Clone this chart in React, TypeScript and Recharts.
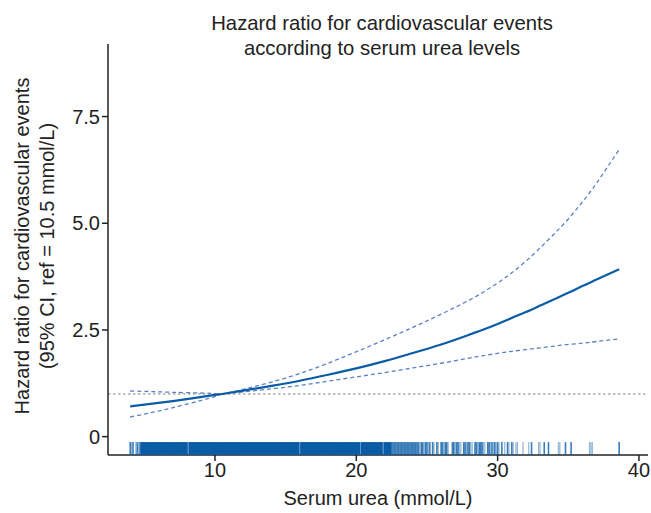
import { ComposedChart, Line, Scatter, XAxis, YAxis, ReferenceLine, Label } from 'recharts';

const FONT = '"Liberation Sans", Arial, Helvetica, sans-serif';
const INK = '#222222';
const BLUE = '#0a5ca6';
const CI_BLUE = '#5a80c4';

// spline estimate
const urea = [4, 6, 8, 10, 10.5, 12, 14, 16, 18, 20, 22, 24, 26, 28, 29, 30, 31, 32, 33, 34, 35, 36, 37, 38.6];
const hr = [0.71, 0.79, 0.88, 0.98, 1.0, 1.08, 1.19, 1.31, 1.45, 1.6, 1.77, 1.96, 2.16, 2.39, 2.51, 2.64, 2.78, 2.92, 3.07, 3.22, 3.37, 3.53, 3.68, 3.92];
const hrLow = [0.46, 0.6, 0.76, 0.94, 1.0, 1.05, 1.12, 1.2, 1.3, 1.4, 1.5, 1.61, 1.72, 1.84, 1.9, 1.95, 2.0, 2.04, 2.08, 2.12, 2.16, 2.19, 2.23, 2.29];
const hrHigh = [1.07, 1.05, 1.03, 1.01, 1.0, 1.11, 1.28, 1.48, 1.72, 1.99, 2.27, 2.56, 2.87, 3.2, 3.39, 3.6, 3.84, 4.11, 4.42, 4.75, 5.1, 5.5, 5.94, 6.73];

// rug of observed urea values, grouped by how dark the tick looks
const rugLight = [
  4.1, 4.4, 4.6, 8.1, 16.0, 20.3, 21.9, 24.5, 24.8, 25.1, 25.5, 25.8, 26.2, 26.5, 27.0, 27.3, 27.4,
  27.8, 28.1, 28.2, 28.6, 29.0, 29.1, 29.5, 29.7, 29.9, 30.1, 30.5, 30.8, 31.1, 31.3, 31.4, 31.8,
  32.2, 32.9, 33.0, 34.3, 34.4, 36.5, 36.6, 36.7,
];
const rugMid = [
  4.0, 4.2, 4.5, 4.7, 22.5, 22.6, 22.7, 22.8, 22.9, 23.0, 23.1, 23.2, 23.3, 23.4, 23.5, 23.6, 23.7,
  23.8, 23.9, 24.0, 24.1, 24.2, 24.3, 24.4, 24.6, 24.7, 24.9, 25.0, 25.2, 25.4, 25.7, 26.0, 26.1,
  26.3, 26.4, 26.8, 26.9, 27.1, 27.2, 27.6, 27.7, 27.9, 28.0, 28.4, 28.5, 28.7, 28.8, 28.9, 29.3,
  29.4, 29.6, 29.8, 30.0, 30.3, 30.7, 31.0, 32.4, 33.3, 33.6, 34.8, 35.2, 38.6,
];
const rugDense = [
  4.8, 4.9, 5.0, 5.1, 5.2, 5.3, 5.4, 5.5, 5.6, 5.7, 5.8, 5.9, 6.0, 6.1, 6.2, 6.3, 6.4, 6.5, 6.6, 6.7,
  6.8, 6.9, 7.0, 7.1, 7.2, 7.3, 7.4, 7.5, 7.6, 7.7, 7.8, 7.9, 8.0, 8.2, 8.3, 8.4, 8.5, 8.6, 8.7, 8.8,
  8.9, 9.0, 9.1, 9.2, 9.3, 9.4, 9.5, 9.6, 9.7, 9.8, 9.9, 10.0, 10.1, 10.2, 10.3, 10.4, 10.5, 10.6,
  10.7, 10.8, 10.9, 11.0, 11.1, 11.2, 11.3, 11.4, 11.5, 11.6, 11.7, 11.8, 11.9, 12.0, 12.1, 12.2,
  12.3, 12.4, 12.5, 12.6, 12.7, 12.8, 12.9, 13.0, 13.1, 13.2, 13.3, 13.4, 13.5, 13.6, 13.7, 13.8,
  13.9, 14.0, 14.1, 14.2, 14.3, 14.4, 14.5, 14.6, 14.7, 14.8, 14.9, 15.0, 15.1, 15.2, 15.3, 15.4,
  15.5, 15.6, 15.7, 15.8, 15.9, 16.1, 16.2, 16.3, 16.4, 16.5, 16.6, 16.7, 16.8, 16.9, 17.0, 17.1,
  17.2, 17.3, 17.4, 17.5, 17.6, 17.7, 17.8, 17.9, 18.0, 18.1, 18.2, 18.3, 18.4, 18.5, 18.6, 18.7,
  18.8, 18.9, 19.0, 19.1, 19.2, 19.3, 19.4, 19.5, 19.6, 19.7, 19.8, 19.9, 20.0, 20.1, 20.2, 20.4,
  20.5, 20.6, 20.7, 20.8, 20.9, 21.0, 21.1, 21.2, 21.3, 21.4, 21.5, 21.6, 21.7, 21.8, 22.0, 22.1,
  22.2, 22.3, 22.4,
];

const yTicks = [0, 2.5, 5, 7.5];
const xTicks = [10, 20, 30, 40];
const RUG_Y = -0.28;

const OPACITY: Record<number, number> = { 1: 0.45, 2: 0.8, 3: 1 };
const WIDTH: Record<number, number> = { 1: 1.2, 2: 1.6, 3: 2.2 };

function RugTick(props: any) {
  const { cx, cy, payload } = props;
  if (cx == null || cy == null) return null;
  return (
    <line
      x1={cx}
      x2={cx}
      y1={cy - 6.5}
      y2={cy + 6.5}
      stroke={BLUE}
      strokeWidth={WIDTH[payload.n]}
      strokeOpacity={OPACITY[payload.n]}
    />
  );
}

export default function App() {
  const curve = urea.map((u, i) => ({ u, hr: hr[i], lo: hrLow[i], hi: hrHigh[i] }));
  const rug = [
    ...rugLight.map((u) => ({ u, y: RUG_Y, n: 1 })),
    ...rugMid.map((u) => ({ u, y: RUG_Y, n: 2 })),
    ...rugDense.map((u) => ({ u, y: RUG_Y, n: 3 })),
  ];
  const tickStyle = { fontSize: 20, fill: INK, fontFamily: FONT };

  return (
    <div style={{ position: 'absolute', left: 0, top: 0, width: 651, height: 513, background: '#fff', fontFamily: FONT }}>
      <div
        style={{
          position: 'absolute',
          left: 82,
          width: 600,
          top: 11,
          textAlign: 'center',
          fontSize: 20.3,
          lineHeight: '25px',
          color: INK,
        }}
      >
        Hazard ratio for cardiovascular events
        <br />
        according to serum urea levels
      </div>
      <ComposedChart width={651} height={513} margin={{ top: 44, right: 3, bottom: 0, left: 0 }}>
        <XAxis
          type="number"
          dataKey="u"
          domain={[2.43, 40.64]}
          ticks={xTicks}
          allowDataOverflow
          height={58}
          tickSize={6}
          axisLine={{ stroke: INK, strokeWidth: 1.5 }}
          tickLine={{ stroke: INK, strokeWidth: 1.5 }}
          tick={tickStyle}
        >
          <Label
            content={() => (
              <text x={378} y={505} textAnchor="middle" fontSize={20} fill={INK} fontFamily={FONT}>
                Serum urea (mmol/L)
              </text>
            )}
          />
        </XAxis>
        <YAxis
          type="number"
          domain={[-0.43, 9.2]}
          ticks={yTicks}
          allowDataOverflow
          width={108}
          tickSize={6}
          tickFormatter={(v: number) => (v === 0 ? '0' : v.toFixed(1))}
          axisLine={{ stroke: INK, strokeWidth: 1.5 }}
          tickLine={{ stroke: INK, strokeWidth: 1.5 }}
          tick={tickStyle}
        >
          <Label
            content={() => (
              <text
                transform="translate(0 246) rotate(-90)"
                textAnchor="middle"
                fontSize={20}
                fill={INK}
                fontFamily={FONT}
              >
                <tspan x={0} y={29}>Hazard ratio for cardiovascular events</tspan>
                <tspan x={0} y={54}>(95% CI, ref = 10.5 mmol/L)</tspan>
              </text>
            )}
          />
        </YAxis>
        <ReferenceLine y={1} stroke="#808080" strokeWidth={1} strokeDasharray="2.5 2.5" />
        <Scatter data={rug} dataKey="y" shape={RugTick} isAnimationActive={false} />
        <Line data={curve} dataKey="hi" type="natural" stroke={CI_BLUE} strokeWidth={1.3} strokeDasharray="4 3" dot={false} activeDot={false} isAnimationActive={false} />
        <Line data={curve} dataKey="lo" type="natural" stroke={CI_BLUE} strokeWidth={1.3} strokeDasharray="4 3" dot={false} activeDot={false} isAnimationActive={false} />
        <Line data={curve} dataKey="hr" type="natural" stroke={BLUE} strokeWidth={2.2} dot={false} activeDot={false} isAnimationActive={false} />
      </ComposedChart>
    </div>
  );
}
